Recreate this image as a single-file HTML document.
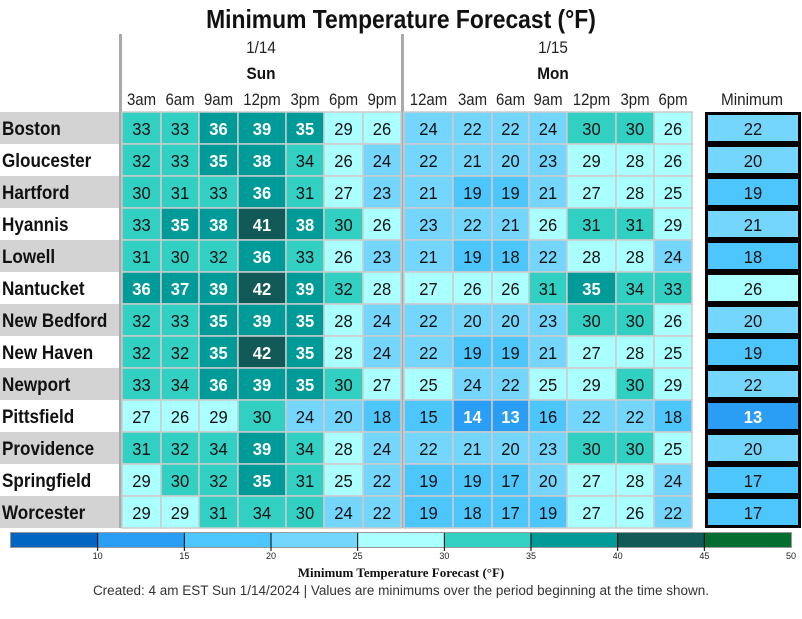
<!DOCTYPE html>
<html><head><meta charset="utf-8">
<style>
html,body{margin:0;padding:0;background:#fff;}
svg{display:block;font-family:"Liberation Sans",sans-serif;}
</style></head>
<body>
<svg id="chart" width="802" height="619" viewBox="0 0 802 619" xmlns="http://www.w3.org/2000/svg">
<text x="401" y="28" text-anchor="middle" font-size="26" font-weight="bold" fill="#111" transform="matrix(0.88,0,0,1,48.12,0)">Minimum Temperature Forecast (°F)</text>
</svg>
<script>
const cities = ["Boston","Gloucester","Hartford","Hyannis","Lowell","Nantucket","New Bedford","New Haven","Newport","Pittsfield","Providence","Springfield","Worcester"];
const timeLabels = ["3am","6am","9am","12pm","3pm","6pm","9pm","12am","3am","6am","9am","12pm","3pm","6pm"];
const values = [
[33,33,36,39,35,29,26,24,22,22,24,30,30,26],
[32,33,35,38,34,26,24,22,21,20,23,29,28,26],
[30,31,33,36,31,27,23,21,19,19,21,27,28,25],
[33,35,38,41,38,30,26,23,22,21,26,31,31,29],
[31,30,32,36,33,26,23,21,19,18,22,28,28,24],
[36,37,39,42,39,32,28,27,26,26,31,35,34,33],
[32,33,35,39,35,28,24,22,20,20,23,30,30,26],
[32,32,35,42,35,28,24,22,19,19,21,27,28,25],
[33,34,36,39,35,30,27,25,24,22,25,29,30,29],
[27,26,29,30,24,20,18,15,14,13,16,22,22,18],
[31,32,34,39,34,28,24,22,21,20,23,30,30,25],
[29,30,32,35,31,25,22,19,19,17,20,27,28,24],
[29,29,31,34,30,24,22,19,18,17,19,27,26,22]
];
const minimums = [22,20,19,21,18,26,20,19,22,13,20,17,17];
const binEdges = [5,10,15,20,25,30,35,40,45,50];
const binColors = ["#0066c2","#2a9df4","#4cc6fc","#74d6fc","#aaffff","#31d0c2","#009a98","#125a58","#066d31"];
const tickValues = [10,15,20,25,30,35,40,45,50];

const svg = document.getElementById('chart');
const NS = "http://www.w3.org/2000/svg";
function mk(tag, attrs, parent){const e=document.createElementNS(NS,tag);for(const k in attrs)e.setAttribute(k,attrs[k]);(parent||svg).appendChild(e);return e;}
function squeeze(e,x,s){e.setAttribute('transform','matrix('+s+',0,0,1,'+(x*(1-s))+',0)');}
function colorFor(v){for(let i=0;i<binColors.length;i++){if(v<binEdges[i+1])return binColors[i];}return binColors[binColors.length-1];}
function darkText(v){return v>=15 && v<35;}

const colEdges=[122,161,199,238,286,324,363,401,404,453,492,529,567,616,654,692];
function colX(j){const e = j<7 ? colEdges[j] : colEdges[j+1]; const r = j<7 ? colEdges[j+1] : colEdges[j+2]; return [e, (j===6? 401 : r)];}
const rowTop=112, rowH=32;
function rowY(i){return rowTop+i*rowH;}

mk('rect',{x:119,y:34,width:3,height:494,fill:'#aaaaaa',});
mk('rect',{x:401,y:34,width:3,height:494,fill:'#aaaaaa',});
let t;
t=mk('text',{x:261,y:53,'text-anchor':'middle','font-size':17,fill:'#222'});t.textContent='1/14';
squeeze(t,261,0.9);
t=mk('text',{x:261,y:79,'text-anchor':'middle','font-size':17,'font-weight':'bold',fill:'#111'});t.textContent='Sun';
squeeze(t,261,0.9);
t=mk('text',{x:553,y:53,'text-anchor':'middle','font-size':17,fill:'#222'});t.textContent='1/15';
squeeze(t,553,0.9);
t=mk('text',{x:553,y:79,'text-anchor':'middle','font-size':17,'font-weight':'bold',fill:'#111'});t.textContent='Mon';
squeeze(t,553,0.9);
t=mk('text',{x:752,y:105,'text-anchor':'middle','font-size':17,fill:'#222'});t.textContent='Minimum';
squeeze(t,752,0.9);

timeLabels.forEach((lab,j)=>{
  const [a,b]=colX(j);
  const e=mk('text',{x:(a+b)/2,y:105,'text-anchor':'middle','font-size':17,fill:'#222'});
  e.textContent=lab;
  
  
  squeeze(e,(a+b)/2,0.88);
});

cities.forEach((c,i)=>{
  const y=rowY(i);
  if(i%2===0){
    const bg=mk('rect',{x:0,y:y,width:119,height:rowH,fill:'#d3d3d3'});
    
    
  }
  const lt=mk('text',{x:2,y:y+23,'font-size':19,'font-weight':'bold',fill:'#111'});
  lt.textContent=c;
  
  
  squeeze(lt,2,0.9);
  values[i].forEach((v,j)=>{
    const [a,b]=colX(j);
    const r=mk('rect',{x:a,y:y,width:b-a,height:rowH,fill:colorFor(v),stroke:'#cccccc','stroke-width':1.5});
    
    
    const tx=mk('text',{x:(a+b)/2,y:y+23,'text-anchor':'middle','font-size':18,fill:darkText(v)?'#111':'#fff','font-weight':darkText(v)?'normal':'bold'});
    tx.textContent=v;
    
    
    squeeze(tx,(a+b)/2,0.92);
  });
  const mv=minimums[i];
  const mb=mk('rect',{x:706.5,y:y+1.5,width:93,height:rowH-3,fill:colorFor(mv),stroke:'#000','stroke-width':3});
  
  
  const mt=mk('text',{x:753,y:y+23,'text-anchor':'middle','font-size':18,fill:darkText(mv)?'#111':'#fff','font-weight':darkText(mv)?'normal':'bold'});
  mt.textContent=mv;
  
  
  squeeze(mt,753,0.92);
});

const cbX0=11, cbX1=791, cbY=533, cbH=14;
function cbx(v){return cbX0+(v-binEdges[0])/(binEdges[binEdges.length-1]-binEdges[0])*(cbX1-cbX0);}
const cbBorder=mk('rect',{x:cbX0-1,y:cbY-1,width:cbX1-cbX0+2,height:cbH+2,fill:'#999'});


binColors.forEach((col,k)=>{
  const a=cbx(binEdges[k]), b=cbx(binEdges[k+1]);
  const r=mk('rect',{x:a,y:cbY,width:b-a,height:cbH,fill:col});
  
  
});
tickValues.forEach(v=>{
  const x=cbx(v);
  if(v<binEdges[binEdges.length-1]){
    const l=mk('line',{x1:x,x2:x,y1:cbY,y2:cbY+cbH+4,stroke:'#000','stroke-width':1});
    
    
  }
  const tt=mk('text',{x:x,y:cbY+26,'text-anchor':'middle','font-size':9,fill:'#222'});
  tt.textContent=v;
  
  
});
t=mk('text',{x:401,y:577,'text-anchor':'middle','font-size':13,'font-weight':'bold','font-family':'"Liberation Serif",serif',fill:'#111'});
t.textContent='Minimum Temperature Forecast (°F)';


t=mk('text',{x:401,y:595,'text-anchor':'middle','font-size':13.5,fill:'#333'});
t.textContent='Created: 4 am EST Sun 1/14/2024  |  Values are minimums over the period beginning at the time shown.';


</script>
</body></html>
